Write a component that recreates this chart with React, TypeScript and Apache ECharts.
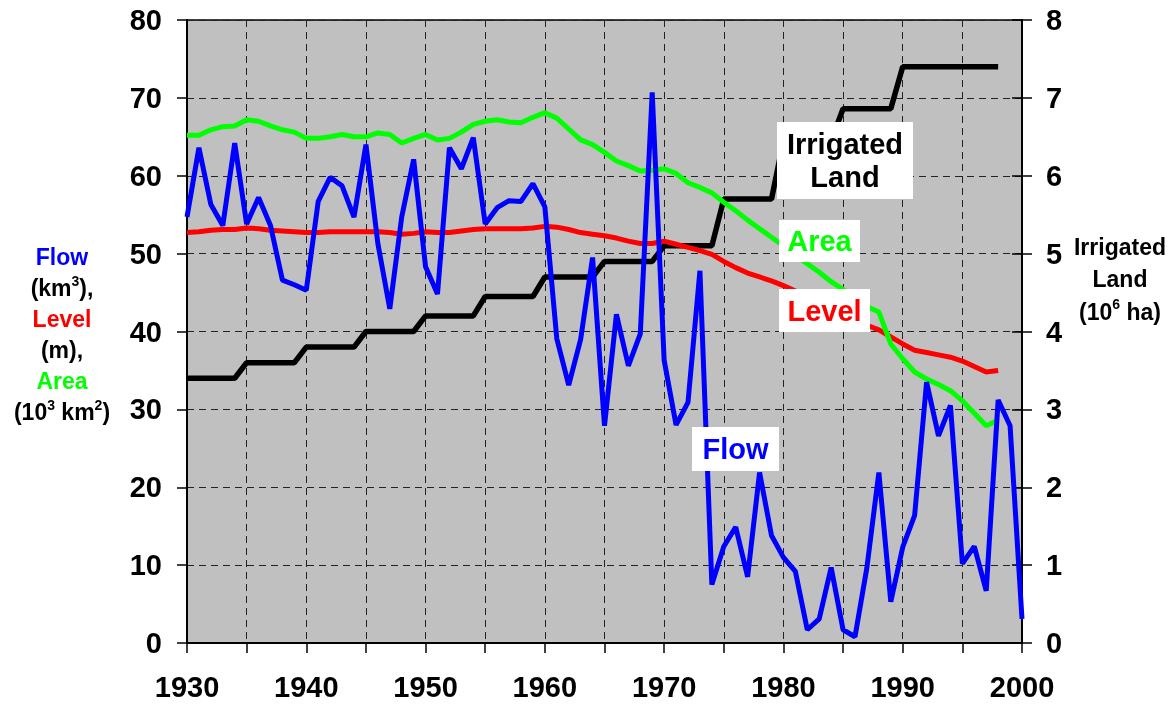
import React, { useEffect, useRef } from "react";
import * as echarts from "echarts";

const startYear = 1930;

// Flow (km^3), 1930-2000
const flow = [
  54.7, 63.6, 56.3, 53.6, 64.2, 53.8, 57.2, 53.6, 46.6, 46.0,
  45.3, 56.7, 59.8, 58.7, 54.7, 64.0, 51.3, 42.9, 54.7, 62.1,
  48.3, 44.8, 63.6, 60.9, 64.9, 53.8, 55.9, 56.8, 56.7, 59.0,
  56.0, 39.1, 33.1, 39.0, 49.5, 27.9, 42.2, 35.6, 39.7, 70.7,
  36.3, 28.0, 30.9, 47.8, 7.5, 12.4, 14.9, 8.5, 21.9, 13.8,
  11.0, 9.2, 1.7, 3.1, 9.7, 1.7, 0.8, 9.7, 21.9, 5.3,
  12.3, 16.4, 33.5, 26.6, 30.5, 10.2, 12.4, 6.7, 31.2, 27.9,
  3.1,
];

// Level (m), 1930-1998
const level = [
  52.7, 52.8, 53.0, 53.1, 53.1, 53.3, 53.2, 53.0, 52.9, 52.8,
  52.7, 52.7, 52.8, 52.8, 52.8, 52.8, 52.8, 52.7, 52.5, 52.6,
  52.8, 52.7, 52.7, 52.9, 53.1, 53.2, 53.2, 53.2, 53.2, 53.3,
  53.5, 53.4, 53.1, 52.7, 52.5, 52.3, 52.0, 51.6, 51.3, 51.3,
  51.6, 51.2, 50.8, 50.4, 49.9, 49.0, 48.2, 47.5, 47.0, 46.5,
  45.9, 45.2, 44.5, 43.7, 43.0, 42.3, 41.6, 40.8, 40.2, 39.3,
  38.4, 37.6, 37.3, 37.0, 36.7, 36.2, 35.5, 34.8, 35.0,
];

// Area (10^3 km^2), 1930-1998
const area = [
  65.2, 65.2, 65.9, 66.3, 66.4, 67.2, 67.0, 66.4, 65.9, 65.6,
  64.8, 64.8, 65.0, 65.3, 65.0, 65.0, 65.5, 65.3, 64.2, 64.8,
  65.3, 64.6, 64.8, 65.6, 66.6, 67.0, 67.2, 66.9, 66.8, 67.5,
  68.1, 67.4, 66.0, 64.6, 64.0, 63.0, 61.9, 61.3, 60.6, 60.7,
  60.9, 60.3, 59.1, 58.5, 57.8, 56.6, 55.5, 54.3, 53.2, 52.1,
  51.0, 49.8, 48.7, 47.6, 46.4, 45.4, 44.3, 43.2, 42.5, 38.4,
  36.5, 34.8, 33.9, 33.2, 32.4, 31.1, 29.5, 27.9, 28.6,
];

// Irrigated land (10^6 ha), 1930-1998
const irrigated = [
  3.4, 3.4, 3.4, 3.4, 3.4, 3.6, 3.6, 3.6, 3.6, 3.6,
  3.8, 3.8, 3.8, 3.8, 3.8, 4.0, 4.0, 4.0, 4.0, 4.0,
  4.2, 4.2, 4.2, 4.2, 4.2, 4.45, 4.45, 4.45, 4.45, 4.45,
  4.7, 4.7, 4.7, 4.7, 4.7, 4.9, 4.9, 4.9, 4.9, 4.9,
  5.1, 5.1, 5.1, 5.1, 5.1, 5.7, 5.7, 5.7, 5.7, 5.7,
  6.45, 6.45, 6.45, 6.45, 6.45, 6.86, 6.86, 6.86, 6.86, 6.86,
  7.4, 7.4, 7.4, 7.4, 7.4, 7.4, 7.4, 7.4, 7.4,
];

const FONT = "Arial, 'Liberation Sans', Helvetica, sans-serif";
const BLUE = "#0000FF";
const RED = "#FF0000";
const GREEN = "#00FF00";

const toPairs = (arr: number[]) => arr.map((v, i) => [startYear + i, v]);

export default function App() {
  const ref = useRef<HTMLDivElement>(null);

  useEffect(() => {
    if (!ref.current) return;
    const chart = echarts.init(ref.current, null, { renderer: "svg" });

    const tok = (fill: string) => ({
      fill,
      fontSize: 23,
      fontWeight: "bold",
      fontFamily: FONT,
      lineHeight: 31,
    });
    const sup = {
      fill: "#000",
      fontSize: 14,
      fontWeight: "bold",
      fontFamily: FONT,
      verticalAlign: "top",
      padding: [2, 0, 0, 0],
    };

    const boxLabel = (
      x: number,
      y: number,
      w: number,
      h: number,
      text: string,
      color: string,
      lineHeight = 33
    ) => [
      {
        type: "rect",
        z: 100,
        shape: { x, y, width: w, height: h },
        style: { fill: "#FFFFFF" },
      },
      {
        type: "text",
        z: 101,
        x: x + w / 2,
        y: y + h / 2,
        style: {
          text,
          fill: color,
          font: `bold 29px ${FONT}`,
          align: "center",
          verticalAlign: "middle",
          lineHeight,
        },
      },
    ];

    chart.setOption({
      animation: false,
      grid: {
        left: 187,
        right: 151,
        top: 20,
        bottom: 64,
        show: true,
        backgroundColor: "#C0C0C0",
        borderColor: "#000",
        borderWidth: 1.5,
      },
      xAxis: {
        type: "value",
        min: 1930,
        max: 2000,
        interval: 5,
        axisLine: { show: true, onZero: false, lineStyle: { color: "#000", width: 2 } },
        axisTick: { show: true, length: 10, lineStyle: { color: "#000", width: 1.5 } },
        axisLabel: {
          formatter: (v: number) => (v % 10 === 0 ? String(v) : ""),
          fontSize: 29,
          fontWeight: "bold",
          fontFamily: FONT,
          color: "#000",
          margin: 29,
          showMinLabel: true,
          showMaxLabel: true,
        },
        splitLine: { show: true, lineStyle: { type: [7, 5], color: "#222", width: 1 } },
      },
      yAxis: [
        {
          type: "value",
          position: "left",
          min: 0,
          max: 80,
          interval: 10,
          axisLine: { show: true, lineStyle: { color: "#000", width: 2 } },
          axisTick: { show: true, length: 10, lineStyle: { color: "#000", width: 1.5 } },
          axisLabel: {
            fontSize: 29,
            fontWeight: "bold",
            fontFamily: FONT,
            color: "#000",
            margin: 25,
          },
          splitLine: { show: true, lineStyle: { type: [7, 5], color: "#222", width: 1 } },
        },
        {
          type: "value",
          position: "right",
          min: 0,
          max: 8,
          interval: 1,
          axisLine: { show: true, lineStyle: { color: "#000", width: 2 } },
          axisTick: { show: true, length: 10, lineStyle: { color: "#000", width: 1.5 } },
          axisLabel: {
            fontSize: 29,
            fontWeight: "bold",
            fontFamily: FONT,
            color: "#000",
            margin: 24,
          },
          splitLine: { show: false },
        },
        {
          type: "value",
          position: "right",
          min: 0,
          max: 8,
          interval: 1,
          axisLine: { show: false },
          axisTick: { show: true, inside: true, length: 10, lineStyle: { color: "#000", width: 1.5 } },
          axisLabel: { show: false },
          splitLine: { show: false },
        },
      ],
      series: [
        {
          name: "Irrigated Land",
          type: "line",
          yAxisIndex: 1,
          data: toPairs(irrigated),
          showSymbol: false,
          symbol: "none",
          lineStyle: { color: "#000", width: 5.5 },
          z: 2,
        },
        {
          name: "Level",
          type: "line",
          data: toPairs(level),
          showSymbol: false,
          symbol: "none",
          lineStyle: { color: RED, width: 5 },
          z: 3,
        },
        {
          name: "Area",
          type: "line",
          data: toPairs(area),
          showSymbol: false,
          symbol: "none",
          lineStyle: { color: GREEN, width: 5 },
          z: 4,
        },
        {
          name: "Flow",
          type: "line",
          data: toPairs(flow),
          showSymbol: false,
          symbol: "none",
          lineStyle: { color: BLUE, width: 5 },
          z: 5,
        },
      ],
      graphic: [
        {
          type: "text",
          x: 62,
          y: 334,
          style: {
            text:
              "{b|Flow}\n{k|(km}{s|3}{k|),}\n{r|Level}\n{k|(m),}\n{g|Area}\n{k|(10}{s|3}{k| km}{s|2}{k|)}",
            align: "center",
            verticalAlign: "middle",
            rich: { b: tok(BLUE), k: tok("#000"), r: tok(RED), g: tok(GREEN), s: sup },
          },
        },
        {
          type: "text",
          x: 1120,
          y: 279,
          style: {
            text: "{k|Irrigated}\n{k|Land}\n{k|(10}{s|6}{k| ha)}",
            align: "center",
            verticalAlign: "middle",
            rich: { k: { ...tok("#000"), lineHeight: 32.5 }, s: sup },
          },
        },
        ...boxLabel(777, 122, 136, 77, "Irrigated\nLand", "#000"),
        ...boxLabel(779, 220, 81, 42, "Area", GREEN),
        ...boxLabel(779, 289, 91, 43, "Level", RED),
        ...boxLabel(692, 427, 87, 44, "Flow", BLUE),
      ],
    });

    return () => chart.dispose();
  }, []);

  return (
    <div
      ref={ref}
      style={{ position: "fixed", left: 0, top: 0, width: 1173, height: 707 }}
    />
  );
}
